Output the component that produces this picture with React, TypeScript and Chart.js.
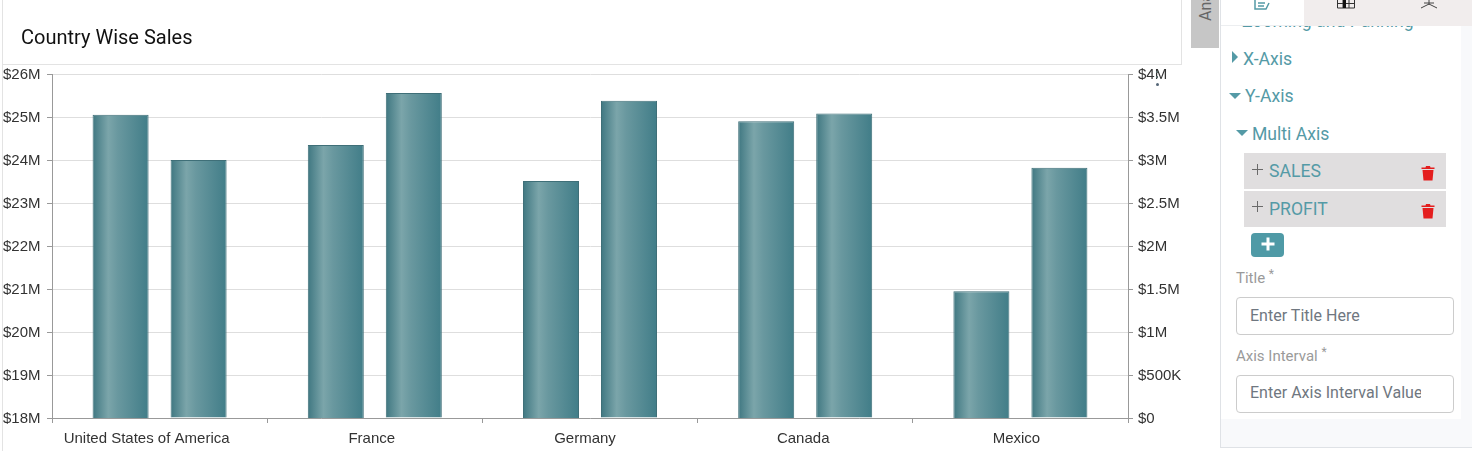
import React, { useEffect, useRef } from "react";
import { Chart, registerables } from "chart.js";

Chart.register(...registerables);

const categories = ["United States of America", "France", "Germany", "Canada", "Mexico"];
const sales = [25.05, 24.35, 23.51, 24.9, 20.95];
const profit = [3.0, 3.78, 3.69, 3.54, 2.91];
const salesTicks = ["$18M", "$19M", "$20M", "$21M", "$22M", "$23M", "$24M", "$25M", "$26M"];
const profitTicks = ["$0", "$500K", "$1M", "$1.5M", "$2M", "$2.5M", "$3M", "$3.5M", "$4M"];
const chartTitle = "Country Wise Sales";

const FONT = "'Liberation Sans', Arial, sans-serif";
const UI = "Roboto, sans-serif";
const TEAL = "#549aa6";
const labelShift = [-13, -3, -5, -2, -4];

const barGradient = {
  id: "barGradient",
  beforeDatasetsDraw(chart: any) {
    const ctx = chart.ctx;
    chart.data.datasets.forEach((_: any, i: number) => {
      chart.getDatasetMeta(i).data.forEach((el: any) => {
        const left = el.x - el.width / 2;
        const g = ctx.createLinearGradient(left, 0, left + el.width, 0);
        g.addColorStop(0, "#3f7781");
        g.addColorStop(0.28, "#7ba5aa");
        g.addColorStop(0.45, "#69989f");
        g.addColorStop(1, "#417d88");
        el.options = { ...el.options, backgroundColor: g };
      });
    });
  },
};

const shiftLabels = {
  id: "shiftLabels",
  beforeDraw(chart: any) {
    const items = chart.scales.x.getLabelItems(chart.chartArea);
    if (items.__shifted) return;
    items.forEach((it: any, i: number) => {
      it.options.translation[0] += labelShift[i];
    });
    items.__shifted = true;
  },
};

function Abs({ style, children }: any) {
  return <div style={{ position: "absolute", whiteSpace: "nowrap", ...style }}>{children}</div>;
}

function Trash({ x, y }: { x: number; y: number }) {
  return (
    <svg style={{ position: "absolute", left: x, top: y }} width="14" height="16" viewBox="0 0 14 16">
      <path d="M0.5 2.5H4.5L5 1H9L9.5 2.5H13.5V4H0.5Z M1.5 5H12.5L11.5 15.5H2.5Z" fill="#e41e1e" />
    </svg>
  );
}

function Caret({ x, y, dir }: { x: number; y: number; dir: "r" | "d" }) {
  return (
    <svg style={{ position: "absolute", left: x, top: y }} width="12" height="12" viewBox="0 0 12 12">
      <path d={dir === "r" ? "M1 0L7 6L1 12Z" : "M0 1H12L6 7Z"} fill={TEAL} />
    </svg>
  );
}

function Plus({ x, y }: { x: number; y: number }) {
  return (
    <svg style={{ position: "absolute", left: x, top: y }} width="11" height="11" viewBox="0 0 11 11">
      <path d="M5.5 0V11M0 5.5H11" stroke="#6a6a6a" strokeWidth="1" />
    </svg>
  );
}

function Input({ top, text, textTop }: { top: number; text: string; textTop: number }) {
  return (
    <div
      style={{
        position: "absolute", left: 1236, top, width: 216, height: 36, border: "1px solid #ccc",
        borderRadius: 4, background: "#fff", boxSizing: "content-box", overflow: "hidden",
      }}
    >
      <div style={{ position: "absolute", left: 13, top: textTop, width: 171, overflow: "hidden", whiteSpace: "nowrap", font: `16px ${UI}`, letterSpacing: "0.02px", color: "#6f7780" }}>
        {text}
      </div>
    </div>
  );
}

export default function App() {
  const ref = useRef<HTMLCanvasElement>(null);

  useEffect(() => {
    const chart = new Chart(ref.current!, {
      type: "bar",
      data: {
        labels: categories,
        datasets: [
          { label: "Sales", data: sales, yAxisID: "y", borderColor: "#3f6f78", borderWidth: 1, barPercentage: 0.718, categoryPercentage: 0.725 },
          { label: "Profit", data: profit, yAxisID: "y1", borderColor: "#3f6f78", borderWidth: 1, barPercentage: 0.718, categoryPercentage: 0.725 },
        ],
      },
      plugins: [barGradient, shiftLabels],
      options: {
        animation: false,
        responsive: false,
        layout: { padding: { top: 74, left: 3, right: 0, bottom: 0 } },
        plugins: { legend: { display: false }, tooltip: { enabled: false }, title: { display: false } },
        scales: {
          x: {
            offset: true,
            grid: { offset: true, drawOnChartArea: false, color: "#999", tickLength: 5 },
            border: { color: "#999", width: 1, z: 1 },
            ticks: { color: "#333", font: { family: FONT, size: 15 }, padding: 7, maxRotation: 0 },
            afterFit(s: any) { s.height = 461 - 418; },
          },
          y: {
            position: "left",
            min: 18,
            max: 26,
            grid: { color: "#dedede", tickColor: "#999", tickLength: 5 },
            border: { color: "#999", width: 1 },
            ticks: {
              stepSize: 1,
              color: "#333",
              font: { family: FONT, size: 15 },
              crossAlign: "far",
              padding: 7,
              labelOffset: 1,
              callback: (_: any, i: number) => salesTicks[i],
            },
            afterFit(s: any) { s.width = 49; },
          },
          y1: {
            position: "right",
            min: 0,
            max: 4,
            grid: { drawOnChartArea: false, color: "#999", tickLength: 5 },
            border: { color: "#999", width: 1 },
            ticks: {
              stepSize: 0.5,
              color: "#333",
              font: { family: FONT, size: 15 },
              padding: 5,
              labelOffset: 1,
              callback: (_: any, i: number) => profitTicks[i],
            },
            afterFit(s: any) { s.width = 1472 - 1128; },
          },
        },
      } as any,
    });
    return () => chart.destroy();
  }, []);

  const text18 = `17.6px ${UI}`;

  return (
    <div style={{ position: "absolute", left: 0, top: 0, width: 1472, height: 461, overflow: "hidden", background: "#fff" }}>
      <canvas ref={ref} width={1472} height={461} style={{ position: "absolute", left: 0, top: 0, display: "block" }} />

      {/* chart frame */}
      <Abs style={{ left: 2, top: 0, width: 1, height: 451, background: "#e3e3e3" }} />
      <Abs style={{ left: 2, top: 64, width: 1180, height: 1, background: "#e3e3e3" }} />
      <Abs style={{ left: 1181, top: 0, width: 1, height: 65, background: "#e3e3e3" }} />
      <Abs style={{ left: 21, top: 25, font: `20px ${UI}`, color: "#111" }}>{chartTitle}</Abs>

      {/* menu dots */}
      <Abs style={{ left: 1156, top: 71, width: 2, height: 2, background: "#566" }} />
      <Abs style={{ left: 1156, top: 76, width: 2, height: 2, background: "#566" }} />
      <Abs style={{ left: 1156, top: 83, width: 3, height: 3, borderRadius: 2, background: "#567" }} />

      {/* Analytics tab */}
      <Abs style={{ left: 1191, top: 0, width: 28, height: 48, background: "#c6c6c6", overflow: "hidden" }}>
        <div style={{ position: "absolute", left: 5, top: 21, font: `16px ${UI}`, color: "#666", transform: "rotate(-90deg)", transformOrigin: "0 0", width: 70 }}>
          <span style={{ position: "absolute", left: 0, top: 0 }}>Analytics</span>
        </div>
      </Abs>

      {/* side panel */}
      <Abs style={{ left: 1220, top: 0, width: 252, height: 448, background: "#f8f9fb", borderLeft: "1px solid #dfe2e6", borderBottom: "1px solid #dfe2e6", boxSizing: "border-box" }} />
      <Abs style={{ left: 1221, top: 26, width: 240, height: 393, background: "#fff" }} />
      <Abs style={{ left: 1221, top: 0, width: 83, height: 25, background: "#fff" }} />
      <Abs style={{ left: 1304, top: 0, width: 168, height: 26, background: "#f1eded" }} />
      <Abs style={{ left: 1221, top: 25, width: 83, height: 1, background: "#eceef0" }} />
      <svg style={{ position: "absolute", left: 1254, top: 0 }} width="18" height="12" viewBox="0 0 18 12">
        <path d="M1 0V9H12L15 3M4 3H11M4 6H10" fill="none" stroke={TEAL} strokeWidth="1.5" />
      </svg>
      <svg style={{ position: "absolute", left: 1337, top: 0 }} width="18" height="9" viewBox="0 0 18 9">
        <path d="M0.5 0V8H17.5V0M0.5 3.5H17.5M6 0V8M12 0V8" fill="none" stroke="#333" strokeWidth="1" />
        <rect x="6" y="0" width="3" height="8" fill="#111" />
      </svg>
      <svg style={{ position: "absolute", left: 1420, top: 0 }} width="18" height="10" viewBox="0 0 18 10">
        <path d="M9 0V5M9 4L1 8M9 4L17 8M4 3L14 3" fill="none" stroke="#444" strokeWidth="1" />
      </svg>

      <Abs style={{ left: 1242, top: 26, width: 200, height: 7, overflow: "hidden" }}>
        <div style={{ position: "absolute", left: 0, top: -15, font: text18, color: TEAL }}>Zooming and Panning</div>
      </Abs>

      <Caret x={1231} y={51} dir="r" />
      <Abs style={{ left: 1243, top: 49, font: text18, color: TEAL }}>X-Axis</Abs>
      <Caret x={1229} y={92} dir="d" />
      <Abs style={{ left: 1245, top: 86, font: text18, color: TEAL }}>Y-Axis</Abs>
      <Caret x={1236} y={129} dir="d" />
      <Abs style={{ left: 1252, top: 124, font: text18, color: TEAL }}>Multi Axis</Abs>

      <Abs style={{ left: 1244, top: 153, width: 202, height: 36, background: "#e0dedf" }} />
      <Plus x={1252} y={164} />
      <Abs style={{ left: 1269, top: 161, font: text18, color: TEAL }}>SALES</Abs>
      <Trash x={1421} y={165} />

      <Abs style={{ left: 1244, top: 191, width: 202, height: 36, background: "#e0dedf" }} />
      <Plus x={1252} y={201} />
      <Abs style={{ left: 1269, top: 199, font: text18, color: TEAL }}>PROFIT</Abs>
      <Trash x={1421} y={203} />

      <Abs style={{ left: 1251, top: 233, width: 33, height: 24, background: "#4f9aa6", borderRadius: 4 }} />
      <svg style={{ position: "absolute", left: 1261, top: 237 }} width="14" height="14" viewBox="0 0 14 14">
        <path d="M7 0.5V13.5M0.5 7H13.5" stroke="#fff" strokeWidth="3" />
      </svg>

      <Abs style={{ left: 1236, top: 269, font: `15px ${UI}`, color: "#9a9a9a" }}>Title <span style={{ fontSize: 12, position: "relative", top: -5 }}>*</span></Abs>
      <Input top={297} text="Enter Title Here" textTop={8} />
      <Abs style={{ left: 1236, top: 347, font: `15px ${UI}`, color: "#9a9a9a" }}>Axis Interval <span style={{ fontSize: 12, position: "relative", top: -5 }}>*</span></Abs>
      <Input top={375} text="Enter Axis Interval Value" textTop={7} />
    </div>
  );
}
